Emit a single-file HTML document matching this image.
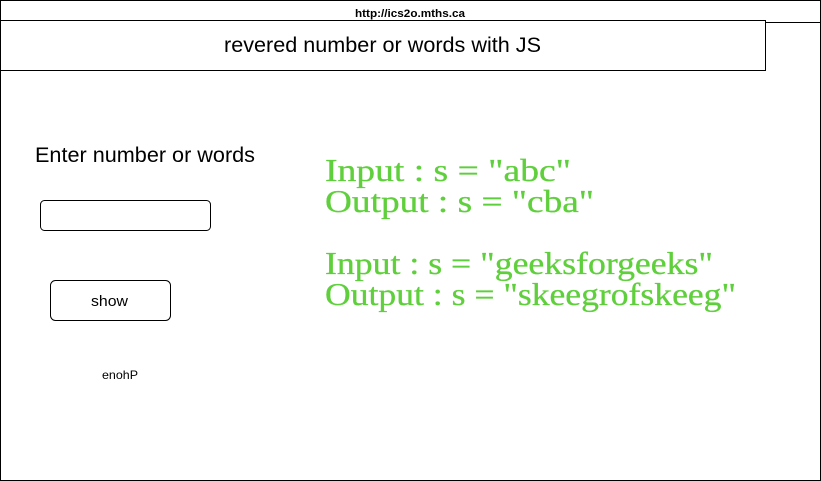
<!DOCTYPE html>
<html><head><style>body{margin:0;background:#fff}svg{display:block}</style></head><body>
<svg width="821" height="481" xmlns="http://www.w3.org/2000/svg">
<rect x="0.5" y="0.5" width="820" height="480" fill="#fff" stroke="#000"/>
<line x1="765" y1="22.5" x2="820" y2="22.5" stroke="#000"/>
<text x="355" y="17" font-family="Liberation Sans, sans-serif" font-size="11" font-weight="bold" textLength="110" lengthAdjust="spacingAndGlyphs">http://ics2o.mths.ca</text>
<rect x="0.5" y="20.5" width="765" height="50" fill="#fff" stroke="#000"/>
<text x="224" y="52" font-family="Liberation Sans, sans-serif" font-size="21" textLength="317" lengthAdjust="spacingAndGlyphs">revered number or words with JS</text>
<text x="35" y="162" font-family="Liberation Sans, sans-serif" font-size="21" textLength="220" lengthAdjust="spacingAndGlyphs">Enter number or words</text>
<rect x="40.5" y="200.5" width="170" height="30" rx="4" fill="#fff" stroke="#000"/>
<rect x="50.5" y="280.5" width="120" height="40" rx="5" fill="#fff" stroke="#000"/>
<text x="91" y="306" font-family="Liberation Sans, sans-serif" font-size="15" textLength="37" lengthAdjust="spacingAndGlyphs">show</text>
<text x="102" y="379" font-family="Liberation Sans, sans-serif" font-size="12" textLength="36" lengthAdjust="spacingAndGlyphs">enohP</text>
<g font-family="Liberation Serif, serif" font-size="32" fill="#5fcf3c" stroke="#5fcf3c" stroke-width="0.3">
<text x="325" y="181" textLength="246" lengthAdjust="spacingAndGlyphs">Input : s = "abc"</text>
<text x="325" y="212" textLength="269" lengthAdjust="spacingAndGlyphs">Output : s = "cba"</text>
<text x="325" y="274" textLength="388" lengthAdjust="spacingAndGlyphs">Input : s = "geeksforgeeks"</text>
<text x="325" y="305" textLength="411" lengthAdjust="spacingAndGlyphs">Output : s = "skeegrofskeeg"</text>
</g>
</svg>
</body></html>
